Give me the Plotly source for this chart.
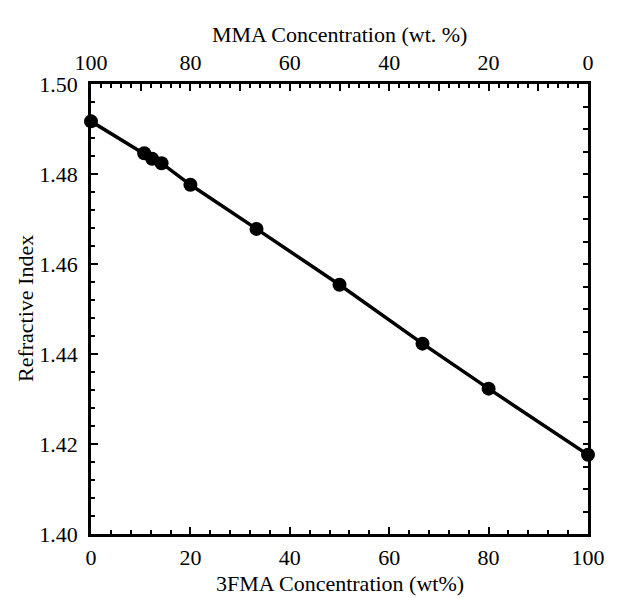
import plotly.graph_objects as go

fma = [0, 10.7, 12.3, 14.2, 20, 33.3, 50, 66.7, 80, 100]
ri = [1.4917, 1.4846, 1.4834, 1.4824, 1.4776, 1.4678, 1.4554, 1.4423, 1.4323, 1.4176]

bottom_ticks = [0, 20, 40, 60, 80, 100]
top_tickvals = [0, 10, 20, 30, 40, 50, 60, 70, 80, 90, 100]
top_ticktext = ["0", "", "20", "", "40", "", "60", "", "80", "", "100"]
left_ticks = [1.40, 1.42, 1.44, 1.46, 1.48, 1.50]
left_ticktext = ["1.40", "1.42", "1.44", "1.46", "1.48", "1.50"]

font = "Liberation Serif"
fs = 22
fig = go.Figure()
fig.add_trace(go.Scatter(x=fma, y=ri, mode="lines+markers",
                         line=dict(color="black", width=3.5),
                         marker=dict(color="black", size=14),
                         showlegend=False, hoverinfo="skip", cliponaxis=False))
# invisible trace to activate the top and right axes
fig.add_trace(go.Scatter(x=[100 - v for v in fma], y=ri, xaxis="x2", yaxis="y2",
                         mode="markers", marker=dict(opacity=0),
                         showlegend=False, hoverinfo="skip"))

axcommon = dict(showgrid=False, zeroline=False, showline=True, linecolor="black",
                linewidth=2.5, ticks="inside", tickcolor="black", tickwidth=2,
                tickfont=dict(family=font, size=fs, color="black"))
minor_style = dict(ticks="inside", tickcolor="black", tickwidth=2, ticklen=4)

fig.update_layout(
    width=617, height=598,
    margin=dict(l=91, r=23, t=84, b=64),
    plot_bgcolor="white", paper_bgcolor="white",
    xaxis=dict(range=[0, 100], tickvals=bottom_ticks, ticklen=7, ticklabelstandoff=2,
               minor=dict(dtick=4, **minor_style), **axcommon),
    xaxis2=dict(range=[100, 0], overlaying="x", side="top", anchor="y",
                tickvals=top_tickvals, ticktext=top_ticktext, ticklen=7, ticklabelstandoff=2,
                minor=dict(dtick=2, **minor_style), **axcommon),
    yaxis=dict(range=[1.40, 1.50], tickvals=left_ticks, ticktext=left_ticktext, ticklen=7,
               ticklabelstandoff=6,
               minor=dict(dtick=0.004, **minor_style), **axcommon),
    yaxis2=dict(range=[1.40, 1.50], overlaying="y", side="right", anchor="x",
                dtick=0.005, tick0=1.40, ticklen=5, showticklabels=False,
                **axcommon),
    annotations=[
        dict(text="3FMA Concentration (wt%)", xref="paper", yref="paper", x=0.5, y=0,
             yshift=-63, showarrow=False, yanchor="bottom", borderpad=0,
             font=dict(family=font, size=fs, color="black")),
        dict(text="MMA Concentration (wt. %)", xref="paper", yref="paper", x=0.5, y=1,
             yshift=50, showarrow=False, yanchor="middle",
             font=dict(family=font, size=fs, color="black")),
        dict(text="Refractive Index", xref="paper", yref="paper", x=0, y=0.5,
             xshift=-66, showarrow=False, textangle=-90, xanchor="center",
             font=dict(family=font, size=fs, color="black")),
    ],
)
fig.write_html("out.html")
